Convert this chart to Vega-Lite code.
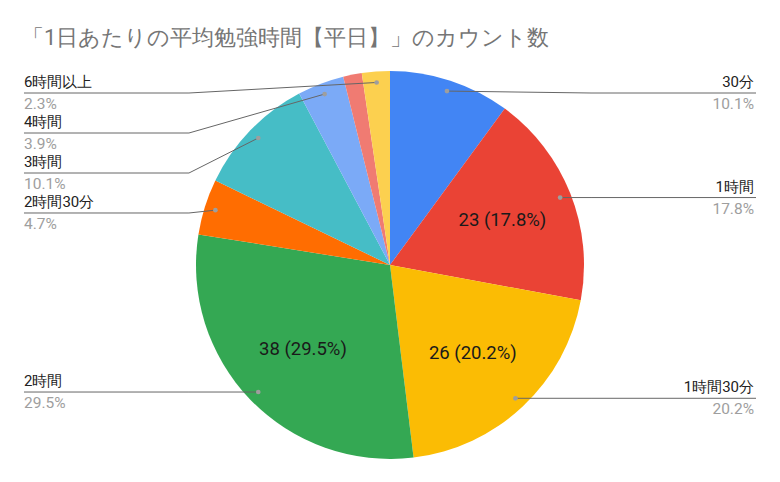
{
  "$schema": "https://vega.github.io/schema/vega-lite/v6.json",
  "width": 780,
  "height": 410,
  "padding": {"left": 0, "right": 0, "top": 27, "bottom": 0},
  "title": {
    "text": "「1日あたりの平均勉強時間【平日】」のカウント数",
    "anchor": "start",
    "dx": 22,
    "offset": 10,
    "fontSize": 22,
    "fontWeight": "normal",
    "color": "#757575"
  },
  "config": {"view": {"stroke": null}, "font": "Roboto"},
  "data": {
    "values": [
      {"label": "30分", "count": 13},
      {"label": "1時間", "count": 23},
      {"label": "1時間30分", "count": 26},
      {"label": "2時間", "count": 38},
      {"label": "2時間30分", "count": 6},
      {"label": "3時間", "count": 13},
      {"label": "4時間", "count": 5},
      {"label": "5時間", "count": 2},
      {"label": "6時間以上", "count": 3}
    ]
  },
  "transform": [
    {"window": [{"op": "row_number", "as": "idx"}]},
    {"joinaggregate": [{"op": "sum", "field": "count", "as": "total"}]},
    {"window": [{"op": "sum", "field": "count", "as": "cum"}], "sort": [{"field": "idx"}], "frame": [null, 0]},
    {"calculate": "(datum.cum - datum.count / 2) / datum.total * 2 * PI", "as": "mid"},
    {"calculate": "datum.count / datum.total", "as": "pct"},
    {"calculate": "0.9385 * sin(datum.mid)", "as": "px"},
    {"calculate": "0.9385 * cos(datum.mid)", "as": "py"},
    {"calculate": "datum.mid > PI ? 'left' : 'right'", "as": "side"}
  ],
  "layer": [
    {
      "mark": {"type": "arc", "outerRadius": 194},
      "encoding": {
        "theta": {"field": "count", "type": "quantitative", "stack": true},
        "order": {"field": "idx", "type": "quantitative"},
        "color": {
          "field": "label",
          "type": "nominal",
          "scale": {
            "domain": ["30分", "1時間", "1時間30分", "2時間", "2時間30分", "3時間", "4時間", "5時間", "6時間以上"],
            "range": ["#4285f4", "#ea4335", "#fbbc04", "#34a853", "#ff6d01", "#46bdc6", "#7baaf7", "#f07b72", "#fcd04f"]
          },
          "legend": null
        }
      }
    },
    {
      "transform": [
        {"filter": "datum.pct >= 0.15"},
        {"calculate": "0.62 * sin(datum.mid)", "as": "ix"},
        {"calculate": "0.62 * cos(datum.mid)", "as": "iy"},
        {"calculate": "datum.count + ' (' + format(datum.pct, '.1%') + ')'", "as": "txt"}
      ],
      "mark": {"type": "text", "fontSize": 18.5, "color": "#1a1a1a"},
      "encoding": {
        "x": {"field": "ix", "type": "quantitative", "scale": {"domain": [-2, 2]}, "axis": null},
        "y": {"field": "iy", "type": "quantitative", "scale": {"domain": [-1.0513, 1.0513]}, "axis": null},
        "text": {"field": "txt"}
      }
    },
    {
      "transform": [
        {"filter": "datum.pct >= 0.02"},
        {"window": [{"op": "row_number", "as": "rn"}], "groupby": ["side"], "sort": [{"field": "py", "order": "descending"}]},
        {"calculate": "datum.py + 0.2051 * (datum.rn - 1)", "as": "k"},
        {"window": [{"op": "min", "field": "k", "as": "kmin"}], "groupby": ["side"], "sort": [{"field": "py", "order": "descending"}], "frame": [null, 0]},
        {"calculate": "min(datum.kmin, 0.882) - 0.2051 * (datum.rn - 1)", "as": "ly"},
        {"calculate": "datum.side == 'left' ? -1.877 : 1.877", "as": "lx"},
        {"calculate": "datum.side == 'left' ? -1.031 : 1.031", "as": "ex"},
        {"calculate": "format(datum.pct, '.1%')", "as": "ptxt"}
      ],
      "layer": [
        {
          "mark": {"type": "rule", "color": "#666666", "strokeWidth": 1},
          "encoding": {
            "x": {"field": "lx", "type": "quantitative", "scale": {"domain": [-2, 2]}, "axis": null},
            "x2": {"field": "ex"},
            "y": {"field": "ly", "type": "quantitative", "scale": {"domain": [-1.0513, 1.0513]}, "axis": null},
            "y2": {"field": "ly"}
          }
        },
        {
          "mark": {"type": "rule", "color": "#666666", "strokeWidth": 1},
          "encoding": {
            "x": {"field": "ex", "type": "quantitative", "scale": {"domain": [-2, 2]}, "axis": null},
            "x2": {"field": "px"},
            "y": {"field": "ly", "type": "quantitative", "scale": {"domain": [-1.0513, 1.0513]}, "axis": null},
            "y2": {"field": "py"}
          }
        },
        {
          "mark": {"type": "point", "filled": true, "color": "#9e9e9e", "size": 22, "opacity": 1},
          "encoding": {
            "x": {"field": "px", "type": "quantitative", "scale": {"domain": [-2, 2]}, "axis": null},
            "y": {"field": "py", "type": "quantitative", "scale": {"domain": [-1.0513, 1.0513]}, "axis": null}
          }
        },
        {
          "transform": [{"filter": "datum.side == 'left'"}],
          "layer": [
            {
              "mark": {"type": "text", "align": "left", "baseline": "middle", "dy": -11, "fontSize": 15, "color": "#222222"},
              "encoding": {
                "x": {"field": "lx", "type": "quantitative", "scale": {"domain": [-2, 2]}, "axis": null},
                "y": {"field": "ly", "type": "quantitative", "scale": {"domain": [-1.0513, 1.0513]}, "axis": null},
                "text": {"field": "label"}
              }
            },
            {
              "mark": {"type": "text", "align": "left", "baseline": "middle", "dy": 11, "fontSize": 15.5, "color": "#9e9e9e"},
              "encoding": {
                "x": {"field": "lx", "type": "quantitative", "scale": {"domain": [-2, 2]}, "axis": null},
                "y": {"field": "ly", "type": "quantitative", "scale": {"domain": [-1.0513, 1.0513]}, "axis": null},
                "text": {"field": "ptxt"}
              }
            }
          ]
        },
        {
          "transform": [{"filter": "datum.side == 'right'"}],
          "layer": [
            {
              "mark": {"type": "text", "align": "right", "baseline": "middle", "dy": -11, "dx": -2, "fontSize": 15, "color": "#222222"},
              "encoding": {
                "x": {"field": "lx", "type": "quantitative", "scale": {"domain": [-2, 2]}, "axis": null},
                "y": {"field": "ly", "type": "quantitative", "scale": {"domain": [-1.0513, 1.0513]}, "axis": null},
                "text": {"field": "label"}
              }
            },
            {
              "mark": {"type": "text", "align": "right", "baseline": "middle", "dy": 11, "dx": -2, "fontSize": 15.5, "color": "#9e9e9e"},
              "encoding": {
                "x": {"field": "lx", "type": "quantitative", "scale": {"domain": [-2, 2]}, "axis": null},
                "y": {"field": "ly", "type": "quantitative", "scale": {"domain": [-1.0513, 1.0513]}, "axis": null},
                "text": {"field": "ptxt"}
              }
            }
          ]
        }
      ]
    }
  ]
}
